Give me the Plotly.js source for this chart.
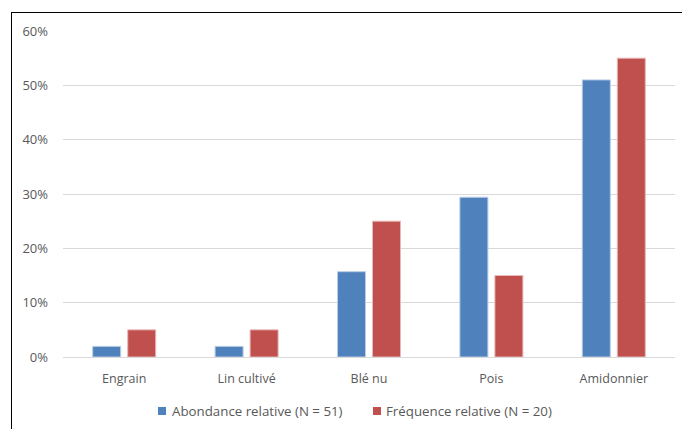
<!DOCTYPE html>
<html><head><meta charset="utf-8">
<script src="https://cdn.plot.ly/plotly-3.0.1.min.js"></script>
<style>
html,body{margin:0;padding:0;background:#fff;}
#wrap{position:relative;width:682px;height:429px;overflow:hidden;}
#chart{width:682px;height:429px;}
#frame{position:absolute;left:11px;top:12px;width:700px;height:500px;border-top:1.5px solid #000;border-left:1.5px solid #000;pointer-events:none;}
</style></head>
<body>
<div id="wrap"><div id="chart"></div><div id="frame"></div></div>
<script>
const categories = ["Engrain", "Lin cultivé", "Blé nu", "Pois", "Amidonnier"];
const abondance = [0.0196, 0.0196, 0.157, 0.294, 0.51];
const frequence = [0.05, 0.05, 0.25, 0.15, 0.55];
const seriesNames = ["Abondance relative (N = 51)", "Fréquence relative (N = 20)"];
const seriesColors = ["#4F81BD", "#C0504D"];
const yTickVals = [0, 0.1, 0.2, 0.3, 0.4, 0.5, 0.6];

const fam = "Open Sans, Liberation Sans, sans-serif";
const gray = "#595959";
const traces = [
  {type: "bar", x: categories, y: abondance, name: seriesNames[0], showlegend: false,
   marker: {color: seriesColors[0], line: {color: "#B9CDE5", width: 1}}},
  {type: "bar", x: categories, y: frequence, name: seriesNames[1], showlegend: false,
   marker: {color: seriesColors[1], line: {color: "#E6B9B8", width: 1}}}
];

// custom legend (Excel style): small squares + text below the plot
const W = 682, H = 429, L = 63, R = 7, T = 31, B = 72;
const pw = W - L - R, ph = H - T - B;
const px = v => (v - L) / pw;
const py = v => (H - B - v) / ph;
const legendItems = [{sq: 158, tx: 170}, {sq: 373, tx: 384}];
const shapes = [], annotations = [];
legendItems.forEach((it, i) => {
  shapes.push({type: "rect", xref: "paper", yref: "paper", x0: px(it.sq), x1: px(it.sq + 8),
    y0: py(415), y1: py(407), fillcolor: seriesColors[i], line: {width: 0}});
  annotations.push({xref: "paper", yref: "paper", x: px(it.tx), y: py(411), xanchor: "left", yanchor: "middle",
    text: seriesNames[i], showarrow: false, font: {family: fam, size: 13.3, color: gray}});
});

const layout = {
  width: W, height: H,
  margin: {l: L, r: R, t: T, b: B},
  paper_bgcolor: "#fff", plot_bgcolor: "#fff",
  font: {family: fam, size: 12, color: gray},
  barmode: "group", bargap: 0.428, bargroupgap: 0.2,
  showlegend: false,
  shapes: shapes, annotations: annotations,
  xaxis: {showgrid: false, showline: false, ticks: "", zeroline: false, ticklabelstandoff: 12,
          tickfont: {family: fam, size: 12.5, color: gray}},
  yaxis: {range: [0, 0.6], tickvals: yTickVals, tickformat: ".0%", showgrid: true, gridcolor: "#D9D9D9", gridwidth: 1,
          zeroline: true, zerolinecolor: "#D9D9D9", zerolinewidth: 1, showline: false, ticks: "",
          tickfont: {family: fam, size: 13, color: gray}, ticklabelstandoff: 14}
};
Plotly.newPlot("chart", traces, layout, {displayModeBar: false, staticPlot: true});
</script>
</body></html>
